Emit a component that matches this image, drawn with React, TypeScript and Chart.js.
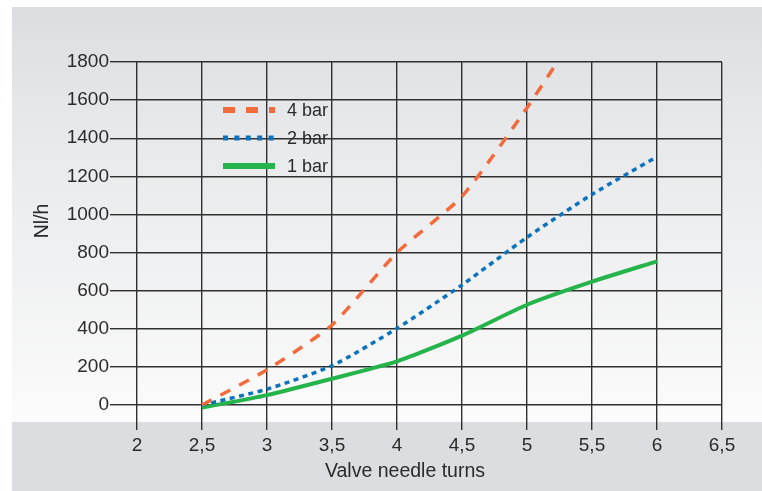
import React, { useEffect, useRef } from "react";
import { Chart, registerables } from "chart.js";

Chart.register(...registerables);

const seriesLabels = ["4 bar", "2 bar", "1 bar"];
const turns4 = [2.5, 3, 3.5, 4, 4.5, 5, 5.5];
const flow4 = [0, 185, 420, 800, 1095, 1560, 2080];
const turns2 = [2.5, 3, 3.5, 4, 4.5, 5, 5.5, 6];
const flow2 = [0, 83, 206, 402, 630, 880, 1105, 1303];
const turns1 = [2.5, 3, 3.5, 4, 4.5, 5, 5.5, 6];
const flow1 = [-14, 52, 138, 229, 364, 526, 647, 754];
const xTitle = "Valve needle turns";
const yTitle = "Nl/h";

const FONT = "'Liberation Sans', Arial, Helvetica, sans-serif";
const TEXT = "#2b2b2b";
const GRID = "#303030";

const colors = ["#f26b3c", "#0b72bd", "#25b34b"];
const plotWidths = [3.5, 3.5, 4];
const plotDash = [[11, 10], [5, 4.5], []];
const legendWidths = [6, 5, 6];
const legendDash = [[12, 11], [5, 6.4], []];

const decor = {
  id: "decor",
  beforeDraw(chart: any) {
    const { ctx, width, height } = chart;
    ctx.save();
    ctx.fillStyle = "#ffffff";
    ctx.fillRect(0, 0, width, height);
    const g = ctx.createLinearGradient(0, 7, 0, 422);
    g.addColorStop(0, "#dcdde0");
    g.addColorStop(0.25, "#e6e7e9");
    g.addColorStop(1, "#fbfbfb");
    ctx.fillStyle = g;
    ctx.fillRect(12, 7, width - 12, 415);
    ctx.fillStyle = "#dcdde0";
    ctx.fillRect(12, 422, width - 12, height - 422);
    ctx.restore();
  },
  afterDatasetsDraw(chart: any) {
    const { ctx, chartArea } = chart;
    ctx.save();
    chart.data.datasets.forEach((ds: any, i: number) => {
      const y = chartArea.top + 48 + i * 28;
      const x0 = chartArea.left + 86;
      const x1 = chartArea.left + 138;
      ctx.beginPath();
      ctx.strokeStyle = ds.borderColor;
      ctx.lineWidth = legendWidths[i];
      ctx.setLineDash(legendDash[i]);
      ctx.lineCap = "butt";
      ctx.moveTo(x0, y);
      ctx.lineTo(x1, y);
      ctx.stroke();
      ctx.setLineDash([]);
      ctx.fillStyle = TEXT;
      ctx.font = `18px ${FONT}`;
      ctx.textBaseline = "middle";
      ctx.textAlign = "left";
      ctx.fillText(ds.label, chartArea.left + 150, y + 1);
    });
    ctx.fillStyle = TEXT;
    ctx.font = `19.5px ${FONT}`;
    ctx.textAlign = "center";
    ctx.textBaseline = "middle";
    ctx.fillText(xTitle, chartArea.left + 268, chartArea.bottom + 67);
    ctx.translate(43, chartArea.top + 159);
    ctx.rotate(-Math.PI / 2);
    ctx.fillText(yTitle, 0, 0);
    ctx.restore();
  },
};

export default function App() {
  const ref = useRef<HTMLCanvasElement>(null);
  useEffect(() => {
    if (!ref.current) return;
    const mk = (xs: number[], ys: number[]) => xs.map((x, i) => ({ x, y: ys[i] }));
    const sets = [mk(turns4, flow4), mk(turns2, flow2), mk(turns1, flow1)];
    const chart = new Chart(ref.current, {
      type: "line",
      data: {
        datasets: sets.map((d, i) => ({
          label: seriesLabels[i],
          data: d,
          borderColor: colors[i],
          backgroundColor: colors[i],
          borderWidth: plotWidths[i],
          borderDash: plotDash[i],
          pointRadius: 0,
          tension: 0.2,
          fill: false,
          clip: { left: 5, top: 0, right: 5, bottom: 10 },
        })),
      },
      options: {
        animation: false,
        responsive: false,
        layout: { padding: { top: 62, right: 40, left: 0, bottom: 0 } },
        plugins: { legend: { display: false }, tooltip: { enabled: false } },
        scales: {
          x: {
            type: "linear",
            min: 2,
            max: 6.5,
            afterFit: (s: any) => { s.height = 86; },
            ticks: {
              stepSize: 0.5,
              autoSkip: false,
              maxRotation: 0,
              padding: 4,
              color: TEXT,
              font: { family: FONT, size: 19 },
              callback: (v: any) => String(v).replace(".", ","),
            },
            grid: { color: GRID, lineWidth: 1.4, tickLength: 25, drawTicks: true },
            border: { display: false },
          },
          y: {
            type: "linear",
            min: 0,
            max: 1800,
            afterFit: (s: any) => { s.width = 137; },
            ticks: {
              stepSize: 200,
              padding: 1,
              color: TEXT,
              font: { family: FONT, size: 19 },
              callback: (v: any) => String(v),
            },
            grid: { color: GRID, lineWidth: 1.4, tickLength: 27, drawTicks: true },
            border: { display: false },
          },
        },
      },
      plugins: [decor],
    });
    return () => chart.destroy();
  }, []);
  return (
    <div style={{ position: "fixed", left: 0, top: 0, width: 762, height: 491 }}>
      <canvas ref={ref} width={762} height={491} style={{ display: "block" }} />
    </div>
  );
}
